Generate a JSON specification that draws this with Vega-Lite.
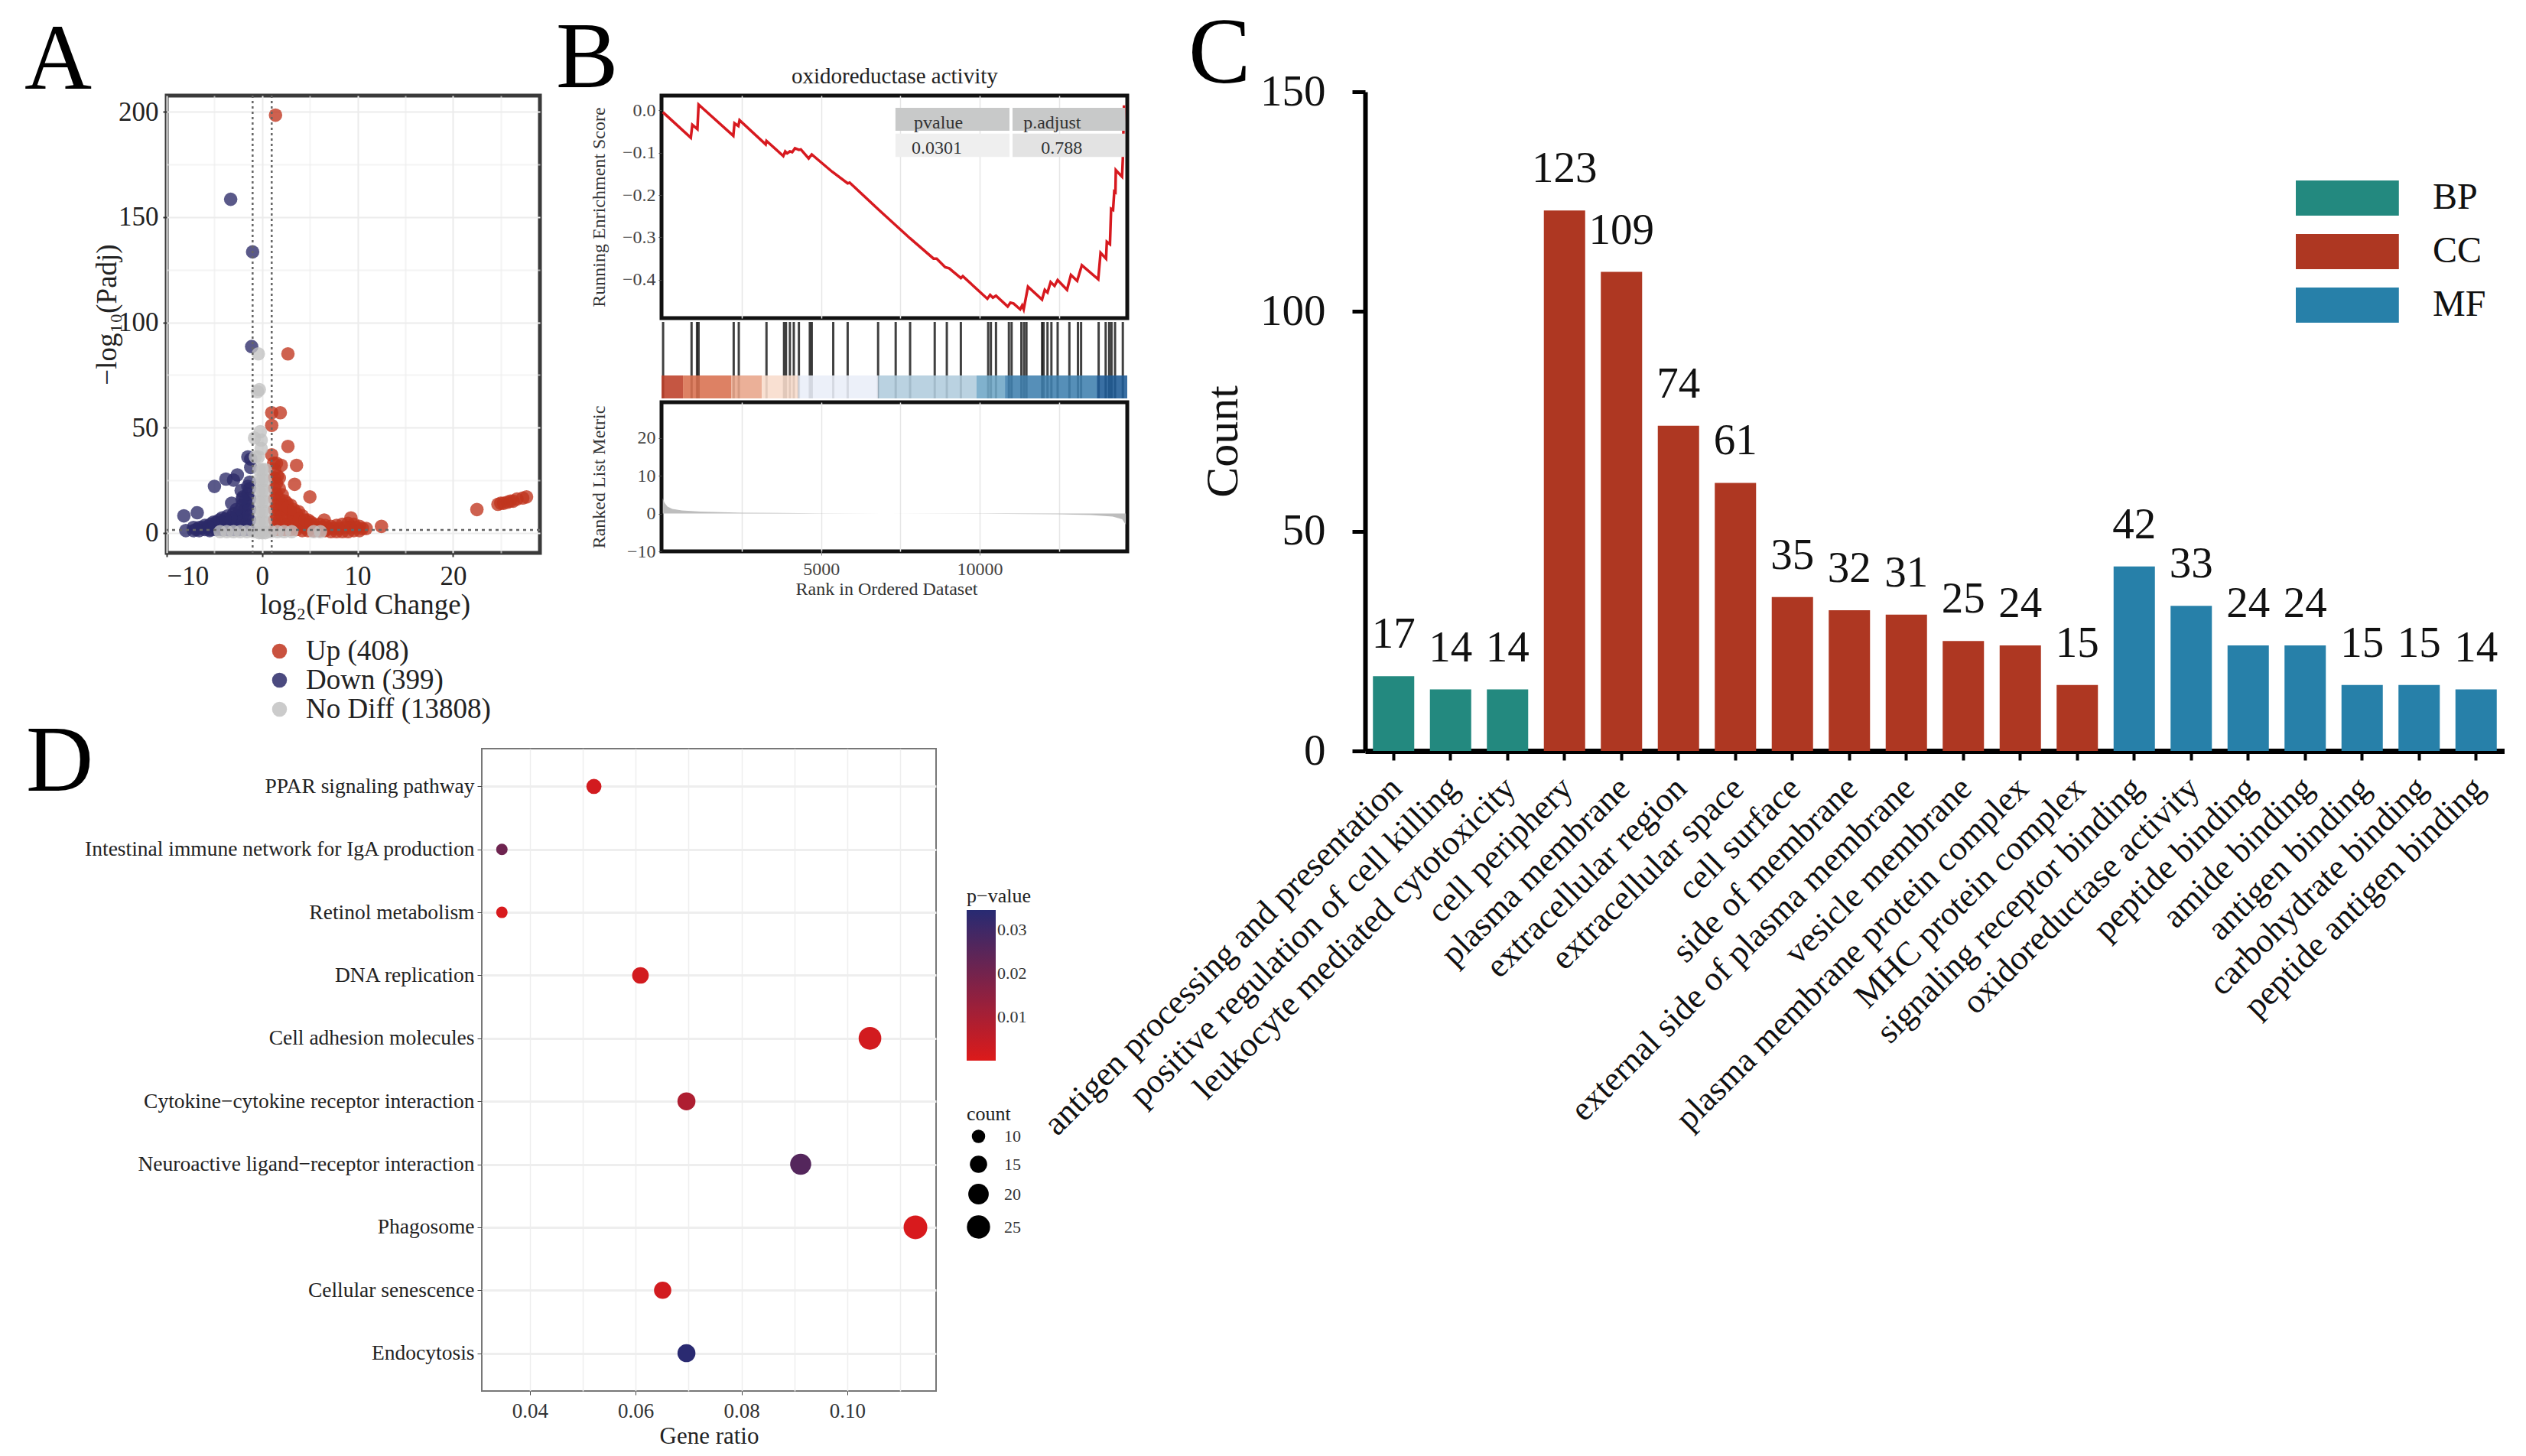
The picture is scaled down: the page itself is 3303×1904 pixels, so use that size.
{"$schema":"https://vega.github.io/schema/vega-lite/v6.json","background":"white","padding":{"left":29,"top":10,"right":0,"bottom":0},"spacing":-124,"resolve":{"scale":{"color":"independent","size":"independent"}},
"config":{"font":"Liberation Serif","view":{"stroke":null},"title":{"fontSize":122,"fontWeight":"normal","anchor":"start","frame":"group","color":"#000","offset":3,"baseline":"alphabetic"},"axis":{"labelFont":"Liberation Serif","titleFont":"Liberation Serif","titleFontWeight":"normal"},"legend":{"labelFont":"Liberation Serif","titleFont":"Liberation Serif","titleFontWeight":"normal"}},
"datasets":{
"volcano":[
{"x":1.4,"y":198.5,"g":"Up (408)"},{"x":2.7,"y":85,"g":"Up (408)"},{"x":1.0,"y":57,"g":"Up (408)"},{"x":1.9,"y":57,"g":"Up (408)"},{"x":1.0,"y":51,"g":"Up (408)"},{"x":2.7,"y":41,"g":"Up (408)"},{"x":1.0,"y":37,"g":"Up (408)"},{"x":1.5,"y":33,"g":"Up (408)"},{"x":2.0,"y":32,"g":"Up (408)"},{"x":3.6,"y":32,"g":"Up (408)"},{"x":1.8,"y":26,"g":"Up (408)"},{"x":3.4,"y":23,"g":"Up (408)"},{"x":5.0,"y":17,"g":"Up (408)"},{"x":2.6,"y":14,"g":"Up (408)"},{"x":3.8,"y":10,"g":"Up (408)"},{"x":6.5,"y":6,"g":"Up (408)"},{"x":9.3,"y":7,"g":"Up (408)"},{"x":12.5,"y":3,"g":"Up (408)"},{"x":22.5,"y":11,"g":"Up (408)"},
{"x":24.7,"y":13.5,"g":"Up (408)"},{"x":25,"y":14,"g":"Up (408)"},{"x":25.3,"y":14,"g":"Up (408)"},{"x":25.7,"y":14.5,"g":"Up (408)"},{"x":26,"y":15,"g":"Up (408)"},{"x":26.3,"y":15,"g":"Up (408)"},{"x":26.7,"y":16,"g":"Up (408)"},{"x":27.3,"y":16.5,"g":"Up (408)"},{"x":27.7,"y":17,"g":"Up (408)"},
{"x":1.3,"y":1.5,"g":"Up (408)"},{"x":1.3,"y":6,"g":"Up (408)"},{"x":1.3,"y":11,"g":"Up (408)"},{"x":1.3,"y":16,"g":"Up (408)"},{"x":1.3,"y":21,"g":"Up (408)"},{"x":1.3,"y":26,"g":"Up (408)"},{"x":1.3,"y":30,"g":"Up (408)"},
{"x":1.8,"y":1.5,"g":"Up (408)"},{"x":1.8,"y":6,"g":"Up (408)"},{"x":1.8,"y":11,"g":"Up (408)"},{"x":1.8,"y":16,"g":"Up (408)"},{"x":1.8,"y":21,"g":"Up (408)"},
{"x":2.4,"y":1.5,"g":"Up (408)"},{"x":2.4,"y":6,"g":"Up (408)"},{"x":2.4,"y":11,"g":"Up (408)"},{"x":2.4,"y":15,"g":"Up (408)"},
{"x":3.0,"y":1.5,"g":"Up (408)"},{"x":3.0,"y":5,"g":"Up (408)"},{"x":3.0,"y":10,"g":"Up (408)"},{"x":3.0,"y":13,"g":"Up (408)"},
{"x":3.6,"y":1.5,"g":"Up (408)"},{"x":3.6,"y":5,"g":"Up (408)"},{"x":3.6,"y":9,"g":"Up (408)"},
{"x":4.2,"y":1,"g":"Up (408)"},{"x":4.2,"y":4,"g":"Up (408)"},{"x":4.2,"y":8,"g":"Up (408)"},
{"x":4.8,"y":1,"g":"Up (408)"},{"x":4.8,"y":4,"g":"Up (408)"},{"x":4.8,"y":6,"g":"Up (408)"},
{"x":5.4,"y":1,"g":"Up (408)"},{"x":5.4,"y":4,"g":"Up (408)"},{"x":6.0,"y":1,"g":"Up (408)"},{"x":6.0,"y":4,"g":"Up (408)"},{"x":6.6,"y":1,"g":"Up (408)"},{"x":6.6,"y":3.5,"g":"Up (408)"},{"x":7.2,"y":0.5,"g":"Up (408)"},{"x":7.2,"y":3,"g":"Up (408)"},{"x":7.8,"y":0.5,"g":"Up (408)"},{"x":7.8,"y":3.5,"g":"Up (408)"},{"x":8.4,"y":0.5,"g":"Up (408)"},{"x":8.4,"y":4,"g":"Up (408)"},{"x":9.0,"y":0.5,"g":"Up (408)"},{"x":9.0,"y":4.5,"g":"Up (408)"},{"x":9.6,"y":1,"g":"Up (408)"},{"x":9.6,"y":4,"g":"Up (408)"},{"x":10.2,"y":1,"g":"Up (408)"},{"x":10.2,"y":3,"g":"Up (408)"},{"x":10.9,"y":2,"g":"Up (408)"},
{"x":1.5,"y":3.5,"g":"Up (408)"},{"x":1.5,"y":8.5,"g":"Up (408)"},{"x":1.5,"y":13.5,"g":"Up (408)"},{"x":1.5,"y":18.5,"g":"Up (408)"},{"x":1.5,"y":23.5,"g":"Up (408)"},{"x":2.1,"y":3.5,"g":"Up (408)"},{"x":2.1,"y":8.5,"g":"Up (408)"},{"x":2.1,"y":13.5,"g":"Up (408)"},{"x":2.1,"y":18,"g":"Up (408)"},{"x":2.7,"y":3.5,"g":"Up (408)"},{"x":2.7,"y":8.5,"g":"Up (408)"},{"x":2.7,"y":12,"g":"Up (408)"},{"x":3.3,"y":3,"g":"Up (408)"},{"x":3.3,"y":7.5,"g":"Up (408)"},{"x":3.3,"y":11,"g":"Up (408)"},{"x":3.9,"y":3,"g":"Up (408)"},{"x":3.9,"y":6.5,"g":"Up (408)"},{"x":4.5,"y":2.5,"g":"Up (408)"},{"x":4.5,"y":6,"g":"Up (408)"},{"x":5.1,"y":2.5,"g":"Up (408)"},{"x":5.1,"y":5,"g":"Up (408)"},{"x":5.7,"y":2.5,"g":"Up (408)"},{"x":6.3,"y":2.5,"g":"Up (408)"},{"x":6.9,"y":2,"g":"Up (408)"},{"x":7.5,"y":2,"g":"Up (408)"},{"x":8.1,"y":2,"g":"Up (408)"},{"x":8.7,"y":2.5,"g":"Up (408)"},{"x":9.3,"y":2.5,"g":"Up (408)"},{"x":9.9,"y":2.5,"g":"Up (408)"},{"x":10.5,"y":2,"g":"Up (408)"},{"x":1.2,"y":33,"g":"Up (408)"},{"x":1.6,"y":27,"g":"Up (408)"},
{"x":-3.3,"y":158.5,"g":"Down (399)"},{"x":-1,"y":133.5,"g":"Down (399)"},{"x":-1.1,"y":88.5,"g":"Down (399)"},{"x":-1.5,"y":36,"g":"Down (399)"},{"x":-1.2,"y":35,"g":"Down (399)"},{"x":-1.2,"y":31,"g":"Down (399)"},{"x":-3.8,"y":25.5,"g":"Down (399)"},{"x":-3,"y":25,"g":"Down (399)"},{"x":-2.6,"y":27.5,"g":"Down (399)"},{"x":-5,"y":22,"g":"Down (399)"},{"x":-3.2,"y":14,"g":"Down (399)"},{"x":-8.2,"y":8,"g":"Down (399)"},{"x":-6.8,"y":9.5,"g":"Down (399)"},{"x":-8,"y":1,"g":"Down (399)"},{"x":-5.5,"y":1,"g":"Down (399)"},{"x":-2.2,"y":20,"g":"Down (399)"},{"x":-2,"y":17,"g":"Down (399)"},
{"x":-1.3,"y":1.5,"g":"Down (399)"},{"x":-1.3,"y":6,"g":"Down (399)"},{"x":-1.3,"y":11,"g":"Down (399)"},{"x":-1.3,"y":16,"g":"Down (399)"},{"x":-1.3,"y":21,"g":"Down (399)"},{"x":-1.3,"y":24,"g":"Down (399)"},
{"x":-1.8,"y":1.5,"g":"Down (399)"},{"x":-1.8,"y":6,"g":"Down (399)"},{"x":-1.8,"y":11,"g":"Down (399)"},{"x":-1.8,"y":15,"g":"Down (399)"},
{"x":-2.4,"y":1.5,"g":"Down (399)"},{"x":-2.4,"y":6,"g":"Down (399)"},{"x":-2.4,"y":10,"g":"Down (399)"},
{"x":-3,"y":1.5,"g":"Down (399)"},{"x":-3,"y":5,"g":"Down (399)"},{"x":-3,"y":9,"g":"Down (399)"},
{"x":-3.6,"y":1.5,"g":"Down (399)"},{"x":-3.6,"y":5,"g":"Down (399)"},{"x":-3.6,"y":8,"g":"Down (399)"},
{"x":-4.2,"y":1.5,"g":"Down (399)"},{"x":-4.2,"y":5,"g":"Down (399)"},{"x":-4.2,"y":7,"g":"Down (399)"},
{"x":-4.8,"y":1.5,"g":"Down (399)"},{"x":-4.8,"y":5,"g":"Down (399)"},{"x":-5.4,"y":1.5,"g":"Down (399)"},{"x":-5.4,"y":4,"g":"Down (399)"},{"x":-6,"y":1.5,"g":"Down (399)"},{"x":-6,"y":3.5,"g":"Down (399)"},{"x":-6.6,"y":1,"g":"Down (399)"},{"x":-6.6,"y":2.5,"g":"Down (399)"},{"x":-7.2,"y":1,"g":"Down (399)"},{"x":-7.2,"y":2.5,"g":"Down (399)"},
{"x":-1.5,"y":3.5,"g":"Down (399)"},{"x":-1.5,"y":8.5,"g":"Down (399)"},{"x":-1.5,"y":13.5,"g":"Down (399)"},{"x":-1.5,"y":18.5,"g":"Down (399)"},{"x":-1.5,"y":22,"g":"Down (399)"},{"x":-2.1,"y":3.5,"g":"Down (399)"},{"x":-2.1,"y":8.5,"g":"Down (399)"},{"x":-2.1,"y":13,"g":"Down (399)"},{"x":-2.1,"y":16,"g":"Down (399)"},{"x":-2.7,"y":3.5,"g":"Down (399)"},{"x":-2.7,"y":8,"g":"Down (399)"},{"x":-2.7,"y":11,"g":"Down (399)"},{"x":-3.3,"y":3,"g":"Down (399)"},{"x":-3.3,"y":7,"g":"Down (399)"},{"x":-3.9,"y":3,"g":"Down (399)"},{"x":-3.9,"y":6.5,"g":"Down (399)"},{"x":-4.5,"y":3,"g":"Down (399)"},{"x":-4.5,"y":6,"g":"Down (399)"},{"x":-5.1,"y":3,"g":"Down (399)"},{"x":-5.1,"y":5,"g":"Down (399)"},{"x":-5.7,"y":3,"g":"Down (399)"},{"x":-6.3,"y":2.5,"g":"Down (399)"},{"x":-6.9,"y":1.5,"g":"Down (399)"},
{"x":-0.4,"y":85,"g":"No Diff (13808)"},{"x":-0.5,"y":67,"g":"No Diff (13808)"},{"x":-0.3,"y":68,"g":"No Diff (13808)"},{"x":-0.8,"y":45,"g":"No Diff (13808)"},{"x":-0.2,"y":48,"g":"No Diff (13808)"},{"x":-0.1,"y":44,"g":"No Diff (13808)"},{"x":-0.1,"y":40,"g":"No Diff (13808)"},{"x":-0.7,"y":36,"g":"No Diff (13808)"},{"x":-0.4,"y":36,"g":"No Diff (13808)"},
{"x":-0.33,"y":0,"g":"No Diff (13808)"},{"x":-0.33,"y":5,"g":"No Diff (13808)"},{"x":-0.33,"y":10,"g":"No Diff (13808)"},{"x":-0.33,"y":15,"g":"No Diff (13808)"},{"x":-0.33,"y":20,"g":"No Diff (13808)"},{"x":-0.33,"y":25,"g":"No Diff (13808)"},{"x":-0.33,"y":30,"g":"No Diff (13808)"},
{"x":0,"y":0,"g":"No Diff (13808)"},{"x":0,"y":5,"g":"No Diff (13808)"},{"x":0,"y":10,"g":"No Diff (13808)"},{"x":0,"y":15,"g":"No Diff (13808)"},{"x":0,"y":20,"g":"No Diff (13808)"},{"x":0,"y":25,"g":"No Diff (13808)"},{"x":0,"y":30,"g":"No Diff (13808)"},
{"x":0.33,"y":0,"g":"No Diff (13808)"},{"x":0.33,"y":5,"g":"No Diff (13808)"},{"x":0.33,"y":10,"g":"No Diff (13808)"},{"x":0.33,"y":15,"g":"No Diff (13808)"},{"x":0.33,"y":20,"g":"No Diff (13808)"},{"x":0.33,"y":25,"g":"No Diff (13808)"},{"x":0.33,"y":30,"g":"No Diff (13808)"},
{"x":-4.4,"y":0.5,"g":"No Diff (13808)"},{"x":-3.7,"y":0.5,"g":"No Diff (13808)"},{"x":-3,"y":0.5,"g":"No Diff (13808)"},{"x":-2.3,"y":0.5,"g":"No Diff (13808)"},{"x":-1.6,"y":0.5,"g":"No Diff (13808)"},{"x":-0.9,"y":0.5,"g":"No Diff (13808)"},{"x":0.9,"y":0.5,"g":"No Diff (13808)"},{"x":1.6,"y":0.5,"g":"No Diff (13808)"},{"x":2.3,"y":0.5,"g":"No Diff (13808)"},{"x":3.1,"y":0.5,"g":"No Diff (13808)"},{"x":5.4,"y":0.5,"g":"No Diff (13808)"},{"x":6.1,"y":0.5,"g":"No Diff (13808)"}
],
"gsea":[{"r":1,"s":-0.004},{"r":884,"s":-0.0645},{"r":932,"s":-0.0341},{"r":1093,"s":-0.0443},{"r":1130,"s":0.0137},{"r":2226,"s":-0.0599},{"r":2263,"s":-0.0305},{"r":2386,"s":-0.0369},{"r":2423,"s":-0.0231},{"r":3248,"s":-0.0802},{"r":3273,"s":-0.0719},{"r":3803,"s":-0.1078},{"r":3864,"s":-0.0968},{"r":3926,"s":-0.1014},{"r":4012,"s":-0.0968},{"r":4086,"s":-0.0986},{"r":4172,"s":-0.0894},{"r":4296,"s":-0.0931},{"r":4357,"s":-0.0922},{"r":4604,"s":-0.1134},{"r":4702,"s":-0.1041},{"r":5343,"s":-0.1447},{"r":5835,"s":-0.1723},{"r":5897,"s":-0.1705},{"r":6821,"s":-0.2349},{"r":7806,"s":-0.3022},{"r":8546,"s":-0.35},{"r":8644,"s":-0.35},{"r":8915,"s":-0.3703},{"r":9038,"s":-0.3731},{"r":9408,"s":-0.3961},{"r":9470,"s":-0.3915},{"r":10245,"s":-0.4449},{"r":10332,"s":-0.4357},{"r":10418,"s":-0.4422},{"r":10517,"s":-0.4376},{"r":10886,"s":-0.4633},{"r":10972,"s":-0.4541},{"r":11071,"s":-0.456},{"r":11280,"s":-0.4698},{"r":11342,"s":-0.4606},{"r":11391,"s":-0.4698},{"r":11527,"s":-0.4164},{"r":11970,"s":-0.4468},{"r":12057,"s":-0.4238},{"r":12143,"s":-0.4302},{"r":12242,"s":-0.4053},{"r":12365,"s":-0.4145},{"r":12463,"s":-0.4007},{"r":12759,"s":-0.4238},{"r":12882,"s":-0.3887},{"r":13079,"s":-0.4026},{"r":13227,"s":-0.3657},{"r":13744,"s":-0.3989},{"r":13818,"s":-0.3362},{"r":13991,"s":-0.35},{"r":14015,"s":-0.3104},{"r":14114,"s":-0.316},{"r":14151,"s":-0.2322},{"r":14212,"s":-0.2349},{"r":14250,"s":-0.1916},{"r":14287,"s":-0.1935},{"r":14299,"s":-0.141},{"r":14496,"s":-0.1566},{"r":14520,"s":-0.1152},{"r":14557,"s":0.0119}],
"hits":[{"r":10},{"r":908},{"r":1080},{"r":1130},{"r":2238},{"r":2399},{"r":3273},{"r":3827},{"r":3889},{"r":4012},{"r":4135},{"r":4296},{"r":4641},{"r":4702},{"r":5380},{"r":5835},{"r":6796},{"r":7351},{"r":7806},{"r":8583},{"r":8965},{"r":9408},{"r":10270},{"r":10356},{"r":10517},{"r":10924},{"r":11010},{"r":11318},{"r":11404},{"r":11478},{"r":11970},{"r":12020},{"r":12143},{"r":12266},{"r":12463},{"r":12833},{"r":13104},{"r":13203},{"r":13757},{"r":13979},{"r":14090},{"r":14163},{"r":14274},{"r":14520}],
"heat":[{"a":-40,"b":637,"c":"a"},{"a":637,"b":2164,"c":"b"},{"a":2164,"b":3125,"c":"c"},{"a":3125,"b":4271,"c":"d"},{"a":4271,"b":6796,"c":"e"},{"a":6796,"b":9901,"c":"f"},{"a":9901,"b":10800,"c":"g"},{"a":10800,"b":13695,"c":"h"},{"a":13695,"b":14660,"c":"i"}],
"metric":[{"r":1,"m":4},{"r":60,"m":2.8},{"r":150,"m":1.8},{"r":300,"m":1.2},{"r":600,"m":0.8},{"r":1200,"m":0.5},{"r":2500,"m":0.2},{"r":5000,"m":0.06},{"r":7000,"m":0},{"r":10000,"m":-0.05},{"r":12500,"m":-0.2},{"r":13500,"m":-0.4},{"r":14200,"m":-0.8},{"r":14500,"m":-1.5},{"r":14615,"m":-3}],
"table":[{"a":7343,"b":10942,"t":0.006,"u":-0.048,"c":"head"},{"a":11039,"b":14589,"t":0.006,"u":-0.048,"c":"head"},{"a":7343,"b":10942,"t":-0.055,"u":-0.11,"c":"left"},{"a":11039,"b":14589,"t":-0.055,"u":-0.11,"c":"right"}],
"cells":[{"x":8700,"y":-0.03,"t":"pvalue"},{"x":12290,"y":-0.03,"t":"p.adjust"},{"x":8650,"y":-0.09,"t":"0.0301"},{"x":12590,"y":-0.09,"t":"0.788"}],
"go":[{"term":"antigen processing and presentation","n":17,"o":"BP"},{"term":"positive regulation of cell killing","n":14,"o":"BP"},{"term":"leukocyte mediated cytotoxicity","n":14,"o":"BP"},{"term":"cell periphery","n":123,"o":"CC"},{"term":"plasma membrane","n":109,"o":"CC"},{"term":"extracellular region","n":74,"o":"CC"},{"term":"extracellular space","n":61,"o":"CC"},{"term":"cell surface","n":35,"o":"CC"},{"term":"side of membrane","n":32,"o":"CC"},{"term":"external side of plasma membrane","n":31,"o":"CC"},{"term":"vesicle membrane","n":25,"o":"CC"},{"term":"plasma membrane protein complex","n":24,"o":"CC"},{"term":"MHC protein complex","n":15,"o":"CC"},{"term":"signaling receptor binding","n":42,"o":"MF"},{"term":"oxidoreductase activity","n":33,"o":"MF"},{"term":"peptide binding","n":24,"o":"MF"},{"term":"amide binding","n":24,"o":"MF"},{"term":"antigen binding","n":15,"o":"MF"},{"term":"carbohydrate binding","n":15,"o":"MF"},{"term":"peptide antigen binding","n":14,"o":"MF"}],
"kegg":[{"path":"PPAR signaling pathway","ratio":0.0521,"count":12,"p":0.002},{"path":"Intestinal immune network for IgA production","ratio":0.0347,"count":8,"p":0.021},{"path":"Retinol metabolism","ratio":0.0347,"count":8,"p":0.001},{"path":"DNA replication","ratio":0.0609,"count":14,"p":0.002},{"path":"Cell adhesion molecules","ratio":0.1043,"count":24,"p":0.002},{"path":"Cytokine−cytokine receptor interaction","ratio":0.0696,"count":16,"p":0.009},{"path":"Neuroactive ligand−receptor interaction","ratio":0.0912,"count":21,"p":0.026},{"path":"Phagosome","ratio":0.1129,"count":26,"p":0.001},{"path":"Cellular senescence","ratio":0.0651,"count":15,"p":0.002},{"path":"Endocytosis","ratio":0.0696,"count":16,"p":0.034}]
},
"hconcat":[
{"spacing":-14,"resolve":{"scale":{"color":"independent","size":"independent"}},"vconcat":[
{"spacing":14,"resolve":{"scale":{"color":"independent"}},"hconcat":[
{"width":488,"height":598,"view":{"stroke":"#3a3a3a","strokeWidth":5},"title":{"text":"A","dx":-186,"offset":-18},
"layer":[
{"data":{"name":"volcano"},"mark":{"type":"point","filled":true,"size":310,"opacity":0.78},
"encoding":{"x":{"field":"x","type":"quantitative","scale":{"domain":[-10,29.1],"nice":false,"zero":false},
"axis":{"values":[-10,-5,0,5,10,15,20,25],"title":"log₂(Fold Change)","titleFontSize":37,"titleColor":"#222","titleX":259,"titleY":50,"labelFontSize":35,"labelColor":"#222","labelPadding":8,"labelExpr":"datum.value % 10 == 0 ? datum.label : ''","tickColor":"#333","tickSize":5,"tickWidth":2,"domain":false,"gridColor":"#ececec","gridWidth":2,"tickOpacity":{"condition":{"test":"datum.value % 10 == 0","value":1},"value":0},"gridOpacity":{"condition":{"test":"datum.value % 10 == 0","value":1},"value":0.6}}},
"y":{"field":"y","type":"quantitative","scale":{"domain":[-9.6,207.8],"nice":false,"zero":false},
"axis":{"values":[0,25,50,75,100,125,150,175,200],"title":"−log₁₀(Padj)","titleFontSize":37,"titleColor":"#222","titleX":-59,"titleY":286,"labelFontSize":35,"labelColor":"#222","labelPadding":6,"labelExpr":"datum.value % 50 == 0 ? datum.label : ''","tickColor":"#333","tickSize":5,"tickWidth":2,"domain":false,"gridColor":"#ececec","gridWidth":2,"tickOpacity":{"condition":{"test":"datum.value % 50 == 0","value":1},"value":0},"gridOpacity":{"condition":{"test":"datum.value % 50 == 0","value":1},"value":0.6}}},
"color":{"field":"g","type":"nominal","sort":null,"scale":{"domain":["Up (408)","Down (399)","No Diff (13808)"],"range":["#c0341d","#2b2a68","#c2c2c2"]},
"legend":{"title":null,"orient":"none","legendX":129,"legendY":708,"labelFontSize":37,"labelColor":"#222","labelOffset":16,"labelLimit":400,"symbolSize":380,"symbolOpacity":0.85,"rowPadding":0,"symbolStrokeWidth":0}}}},
{"data":{"values":[{"v":-1},{"v":1}]},"mark":{"type":"rule","color":"#666","strokeWidth":2.5,"strokeDash":[3,4]},"encoding":{"x":{"field":"v","type":"quantitative"}}},
{"data":{"values":[{"v":1.3}]},"mark":{"type":"rule","color":"#666","strokeWidth":2.5,"strokeDash":[4,5]},"encoding":{"y":{"field":"v","type":"quantitative"}}}
]},
{"spacing":0,"resolve":{"scale":{"color":"independent"}},"vconcat":[
{"width":609,"height":291,"view":{"stroke":"#111","strokeWidth":5},"title":{"text":"B","dx":-138,"offset":-54},
"resolve":{"scale":{"color":"independent"}},
"layer":[
{"data":{"name":"gsea"},"mark":{"type":"line","color":"#d7191f","strokeWidth":3.5,"strokeJoin":"miter"},
"encoding":{"x":{"field":"r","type":"quantitative","scale":{"domain":[-40,14660],"nice":false,"zero":false},"axis":{"values":[2500,5000,7500,10000,12500],"title":null,"labels":false,"ticks":false,"domain":false,"gridColor":"#e6e6e6","gridWidth":1.5}},
"y":{"field":"s","type":"quantitative","scale":{"domain":[-0.4906,0.035],"nice":false,"zero":false},"axis":{"values":[0,-0.1,-0.2,-0.3,-0.4],"format":".1f","grid":false,"domain":false,"title":"Running Enrichment Score","titleFontSize":24,"titleColor":"#333","titleX":-70,"labelFontSize":24,"labelColor":"#444","tickColor":"#444","tickSize":4,"labelPadding":4}}}},
{"data":{"name":"table"},"mark":{"type":"rect"},"encoding":{"x":{"field":"a","type":"quantitative"},"x2":{"field":"b"},"y":{"field":"t","type":"quantitative"},"y2":{"field":"u"},"color":{"field":"c","type":"nominal","legend":null,"scale":{"domain":["head","left","right"],"range":["#c8c9c9","#efefef","#e3e3e3"]}}}},
{"data":{"name":"cells"},"mark":{"type":"text","fontSize":24,"color":"#333"},"encoding":{"x":{"field":"x","type":"quantitative"},"y":{"field":"y","type":"quantitative"},"text":{"field":"t"}}},
{"data":{"values":[{"x":7319,"y":0.0636,"t":"oxidoreductase activity"}]},"mark":{"type":"text","fontSize":29,"color":"#222","baseline":"alphabetic"},"encoding":{"x":{"field":"x","type":"quantitative"},"y":{"field":"y","type":"quantitative"},"text":{"field":"t"}}}
]},
{"width":609,"height":100,
"resolve":{"scale":{"color":"independent"}},
"layer":[
{"data":{"name":"hits"},"mark":{"type":"rule","color":"#000","strokeWidth":3,"opacity":0.75},"encoding":{"x":{"field":"r","type":"quantitative","scale":{"domain":[-40,14660],"nice":false,"zero":false},"axis":null}}},
{"data":{"name":"heat"},"mark":{"type":"rect","opacity":0.88},"encoding":{"x":{"field":"a","type":"quantitative"},"x2":{"field":"b"},"y":{"datum":0.3,"type":"quantitative","scale":{"domain":[0,1]},"axis":null},"y2":{"datum":0},"color":{"field":"c","type":"nominal","legend":null,"scale":{"domain":["a","b","c","d","e","f","g","h","i"],"range":["#bd3f28","#d8704f","#e8a58a","#f8dccc","#e9eef8","#b0ccdd","#6ea6c6","#3f7fae","#1e5b96"]}}}}
]},
{"width":609,"height":195,"view":{"stroke":"#111","strokeWidth":5},
"data":{"name":"metric"},"mark":{"type":"area","color":"#bdbdbd"},
"encoding":{"x":{"field":"r","type":"quantitative","scale":{"domain":[-40,14660],"nice":false,"zero":false},"axis":{"values":[2500,5000,7500,10000,12500],"title":"Rank in Ordered Dataset","titleFontSize":24,"titleColor":"#333","titleX":294,"titleY":37,"labelFontSize":24,"labelColor":"#444","labelPadding":6,"labelExpr":"datum.value % 5000 == 0 ? datum.value : ''","domain":false,"tickOpacity":{"condition":{"test":"datum.value % 5000 == 0","value":1},"value":0},"gridColor":"#e6e6e6","gridWidth":1.5,"format":"d"}},
"y":{"field":"m","type":"quantitative","scale":{"domain":[-10,29.4],"nice":false,"zero":false},"axis":{"values":[-10,0,10,20],"grid":false,"domain":false,"title":"Ranked List Metric","titleFontSize":24,"titleColor":"#333","titleX":-70,"labelFontSize":24,"labelColor":"#444","tickColor":"#444","tickSize":4,"labelPadding":4}},
"y2":{"datum":0}}}
]}
]},
{"spacing":-186,"resolve":{"scale":{"color":"independent","size":"independent"}},"hconcat":[
{"width":1,"height":1,"data":{"values":[]},"mark":"point"},
{"width":594,"height":840,"view":{"stroke":"#777","strokeWidth":2},"title":{"text":"D","dx":-596,"dy":84},
"data":{"name":"kegg"},"mark":{"type":"point","filled":true,"opacity":1},
"encoding":{"x":{"field":"ratio","type":"quantitative","scale":{"domain":[0.0309,0.1168],"nice":false,"zero":false},"axis":{"values":[0.04,0.05,0.06,0.07,0.08,0.09,0.1,0.11],"format":".2f","title":"Gene ratio","titleFontSize":31,"titleColor":"#222","titleX":297,"titleY":44,"labelFontSize":27,"labelColor":"#333","labelExpr":"round(datum.value*100) % 2 == 0 ? datum.label : ''","labelPadding":8,"domain":false,"gridColor":"#eeeeee","gridWidth":1.5,"tickOpacity":{"condition":{"test":"round(datum.value*100) % 2 == 0","value":1},"value":0},"tickSize":5,"tickColor":"#444"}},
"y":{"field":"path","type":"nominal","sort":null,"scale":{"type":"point","padding":0.6},"axis":{"title":null,"labelFontSize":27.5,"labelColor":"#222","labelPadding":4,"labelLimit":700,"domain":false,"tickSize":6,"tickColor":"#444","gridColor":"#eeeeee","gridWidth":3,"grid":true}},
"size":{"field":"count","type":"quantitative","scale":{"domain":[8,26],"range":[225,961],"zero":false},"legend":{"title":"count","orient":"none","legendX":634,"legendY":465,"values":[10,15,20,25],"titleFontSize":26,"titleColor":"#222","labelFontSize":22,"labelColor":"#333","symbolFillColor":"#000","symbolStrokeWidth":0,"rowPadding":14,"labelOffset":18}},
"color":{"field":"p","type":"quantitative","scale":{"domain":[0,0.0345],"range":["#dd1a1a","#272a72"],"interpolate":"rgb"},"legend":{"title":"p−value","orient":"none","legendX":634,"legendY":180,"values":[0.01,0.02,0.03],"format":".2f","gradientLength":197,"gradientThickness":38,"titleFontSize":26,"titleColor":"#222","labelFontSize":22,"labelColor":"#333"}}}}
]}
]},
{"resolve":{"scale":{"color":"independent"}},"vconcat":[
{"width":1490,"height":857,"title":{"text":"C","dx":-231,"offset":-43},
"layer":[
{"data":{"name":"go"},"mark":{"type":"bar"},
"encoding":{"x":{"field":"term","type":"nominal","sort":null,"scale":{"paddingInner":0.275,"paddingOuter":0.1375},"axis":{"title":null,"labelAngle":-45,"labelAlign":"right","labelBaseline":"middle","labelFontSize":44.8,"labelColor":"#111","labelLimit":900,"labelPadding":30,"labelOffset":4,"tickColor":"#000","tickWidth":4,"tickSize":12,"domainColor":"#000","domainWidth":7}},
"y":{"field":"n","type":"quantitative","scale":{"domain":[0,150],"nice":false,"range":[857,-5]},"axis":{"values":[0,50,100,150],"grid":false,"title":"Count","titleFontSize":60,"titleColor":"#111","titleX":-155,"titleY":452,"labelFontSize":57,"labelColor":"#111","labelPadding":35,"tickColor":"#000","tickWidth":5,"tickSize":17,"domainColor":"#000","domainWidth":6}},
"color":{"field":"o","type":"nominal","scale":{"domain":["BP","CC","MF"],"range":["#23897f","#ae3722","#2780a9"]},
"legend":{"title":null,"orient":"none","legendX":1194,"legendY":88,"symbolType":"M-0.5,-0.5H2.43V0.5H-0.5Z","symbolSize":8464,"symbolStrokeWidth":0,"symbolOpacity":1,"labelFontSize":48,"labelColor":"#111","labelOffset":110,"rowPadding":-18}}}},
{"data":{"name":"go"},"mark":{"type":"text","fontSize":57,"color":"#111","baseline":"alphabetic","dy":-37},"encoding":{"x":{"field":"term","type":"nominal","sort":null},"y":{"field":"n","type":"quantitative"},"text":{"field":"n"}}}
]}
]}
]}
